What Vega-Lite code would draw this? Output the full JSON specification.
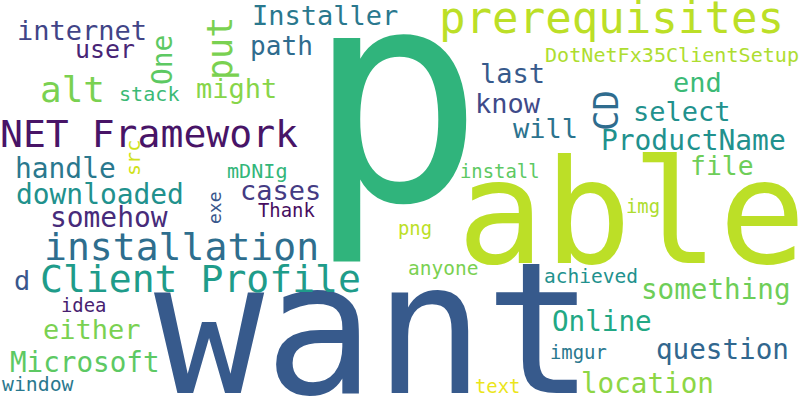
{
  "$schema": "https://vega.github.io/schema/vega-lite/v6.json",
  "width": 800,
  "height": 400,
  "autosize": "none",
  "padding": 0,
  "background": "white",
  "config": {"view": {"stroke": null}},
  "data": {
    "values": [
      {"word": "p", "x": 306, "y": 200, "weight": 98.7, "tone": 0.65, "vertical": false},
      {"word": "able", "x": 457, "y": 263, "weight": 48.3, "tone": 0.9, "vertical": false},
      {"word": "want", "x": 154, "y": 393, "weight": 61, "tone": 0.28, "vertical": false},
      {"word": "prerequisites", "x": 439, "y": 33, "weight": 14.7, "tone": 0.9, "vertical": false},
      {"word": "NET Framework", "x": 0, "y": 147, "weight": 12.7, "tone": 0.05, "vertical": false},
      {"word": "installation", "x": 44, "y": 260, "weight": 12.7, "tone": 0.36, "vertical": false},
      {"word": "Client Profile", "x": 40, "y": 292, "weight": 12.7, "tone": 0.55, "vertical": false},
      {"word": "alt", "x": 40, "y": 102, "weight": 12, "tone": 0.8, "vertical": false},
      {"word": "put", "x": 232, "y": 80, "weight": 11.7, "tone": 0.8, "vertical": true},
      {"word": "CD", "x": 618, "y": 131, "weight": 11.3, "tone": 0.35, "vertical": true},
      {"word": "One", "x": 172, "y": 85, "weight": 9.3, "tone": 0.75, "vertical": true},
      {"word": "internet", "x": 17, "y": 40, "weight": 9, "tone": 0.2, "vertical": false},
      {"word": "user", "x": 75, "y": 58, "weight": 8.3, "tone": 0.1, "vertical": false},
      {"word": "Installer", "x": 252, "y": 25, "weight": 9, "tone": 0.4, "vertical": false},
      {"word": "path", "x": 250, "y": 55, "weight": 8.7, "tone": 0.35, "vertical": false},
      {"word": "might", "x": 196, "y": 98, "weight": 9, "tone": 0.82, "vertical": false},
      {"word": "stack", "x": 119, "y": 101, "weight": 6.7, "tone": 0.68, "vertical": false},
      {"word": "handle", "x": 15, "y": 178, "weight": 9.3, "tone": 0.4, "vertical": false},
      {"word": "downloaded", "x": 16, "y": 204, "weight": 9.3, "tone": 0.5, "vertical": false},
      {"word": "somehow", "x": 50, "y": 227, "weight": 9.3, "tone": 0.12, "vertical": false},
      {"word": "cases", "x": 240, "y": 200, "weight": 9, "tone": 0.17, "vertical": false},
      {"word": "Thank", "x": 258, "y": 217, "weight": 6.3, "tone": 0.03, "vertical": false},
      {"word": "mDNIg", "x": 227, "y": 178, "weight": 6.7, "tone": 0.66, "vertical": false},
      {"word": "src", "x": 140, "y": 176, "weight": 6.7, "tone": 0.93, "vertical": true},
      {"word": "exe", "x": 221, "y": 224, "weight": 6, "tone": 0.27, "vertical": true},
      {"word": "last", "x": 480, "y": 83, "weight": 9, "tone": 0.28, "vertical": false},
      {"word": "know", "x": 475, "y": 113, "weight": 9, "tone": 0.22, "vertical": false},
      {"word": "will", "x": 513, "y": 138, "weight": 9, "tone": 0.38, "vertical": false},
      {"word": "end", "x": 673, "y": 92, "weight": 9, "tone": 0.68, "vertical": false},
      {"word": "select", "x": 633, "y": 121, "weight": 9, "tone": 0.5, "vertical": false},
      {"word": "ProductName", "x": 601, "y": 150, "weight": 9.3, "tone": 0.5, "vertical": false},
      {"word": "DotNetFx35ClientSetup", "x": 545, "y": 62, "weight": 6.7, "tone": 0.88, "vertical": false},
      {"word": "file", "x": 690, "y": 175, "weight": 8.8, "tone": 0.78, "vertical": false},
      {"word": "install", "x": 460, "y": 178, "weight": 6.3, "tone": 0.75, "vertical": false},
      {"word": "img", "x": 626, "y": 213, "weight": 6.3, "tone": 0.88, "vertical": false},
      {"word": "png", "x": 398, "y": 235, "weight": 6.3, "tone": 0.9, "vertical": false},
      {"word": "d", "x": 14, "y": 290, "weight": 9, "tone": 0.27, "vertical": false},
      {"word": "idea", "x": 61, "y": 312, "weight": 6.3, "tone": 0.08, "vertical": false},
      {"word": "either", "x": 43, "y": 339, "weight": 9, "tone": 0.8, "vertical": false},
      {"word": "Microsoft", "x": 10, "y": 372, "weight": 9.2, "tone": 0.75, "vertical": false},
      {"word": "window", "x": 2, "y": 391, "weight": 6.6, "tone": 0.4, "vertical": false},
      {"word": "anyone", "x": 408, "y": 275, "weight": 6.5, "tone": 0.8, "vertical": false},
      {"word": "achieved", "x": 544, "y": 283, "weight": 6.5, "tone": 0.5, "vertical": false},
      {"word": "something", "x": 641, "y": 299, "weight": 9.2, "tone": 0.78, "vertical": false},
      {"word": "Online", "x": 552, "y": 331, "weight": 9.2, "tone": 0.6, "vertical": false},
      {"word": "question", "x": 656, "y": 359, "weight": 9.2, "tone": 0.33, "vertical": false},
      {"word": "imgur", "x": 550, "y": 359, "weight": 6.3, "tone": 0.4, "vertical": false},
      {"word": "location", "x": 581, "y": 393, "weight": 9.2, "tone": 0.83, "vertical": false},
      {"word": "text", "x": 475, "y": 393, "weight": 6.3, "tone": 0.97, "vertical": false}
    ]
  },
  "mark": {"type": "text", "align": "left", "baseline": "alphabetic", "font": "DejaVu Sans Mono"},
  "encoding": {
    "x": {"field": "x", "type": "quantitative", "axis": null, "scale": {"domain": [0, 800], "nice": false, "zero": false}},
    "y": {"field": "y", "type": "quantitative", "axis": null, "scale": {"domain": [0, 400], "nice": false, "reverse": true}},
    "text": {"field": "word"},
    "size": {"field": "weight", "type": "quantitative", "legend": null, "scale": {"domain": [0, 100], "range": [0, 300]}},
    "color": {"field": "tone", "type": "quantitative", "legend": null, "scale": {"scheme": "viridis", "domain": [0, 1]}},
    "angle": {"condition": {"test": "datum.vertical", "value": 270}, "value": 0}
  }
}
